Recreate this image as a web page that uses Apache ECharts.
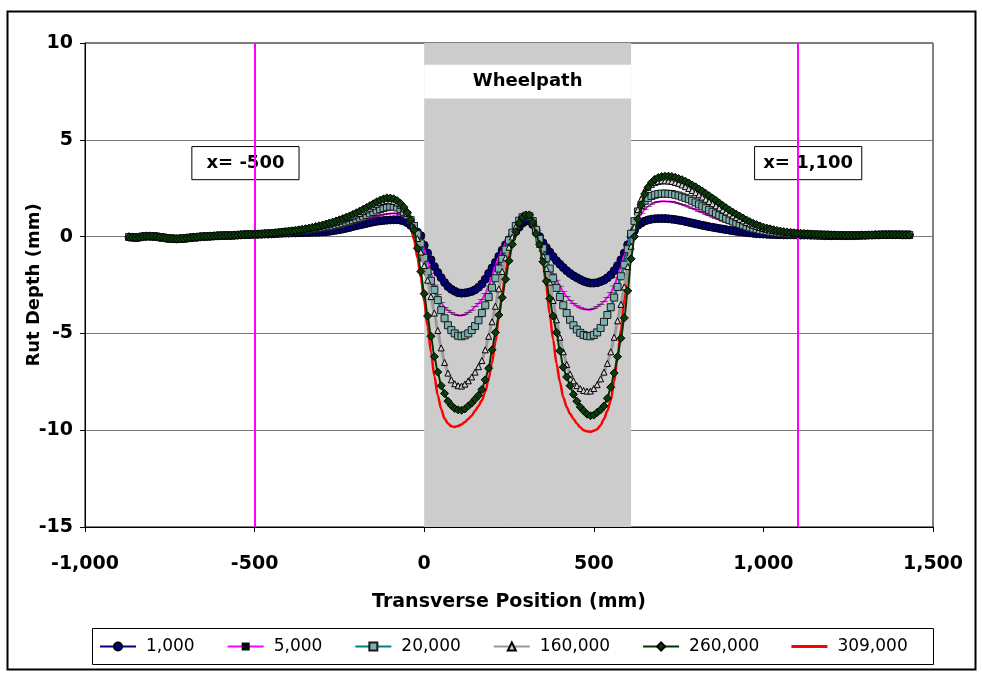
<!DOCTYPE html>
<html>
<head>
<meta charset="utf-8">
<script src="https://cdn.jsdelivr.net/npm/echarts@6/dist/echarts.min.js"></script>
<style>
html,body{margin:0;padding:0;background:#fff;}
#c{width:982px;height:677px;}
</style>
</head>
<body>
<div id="c"></div>
<script>
// ---------------- DATA ----------------
const seriesNames = ['1,000','5,000','20,000','160,000','260,000','309,000'];
const xTicks = [-1000,-500,0,500,1000,1500];
const yTicks = [-15,-10,-5,0,5,10];
const wheelpathStart = 0, wheelpathEnd = 610;
const markerLinesX = [-500, 1100];

// transverse positions (mm)
const xPos = [
 -870,-860,-850,-840,-830,-820,-810,-800,-790,-780,-770,-760,-750,-740,-730,-720,-710,-700,-690,-680,
 -670,-660,-650,-640,-630,-620,-610,-600,-590,-580,-570,-560,-550,-540,-530,-520,-510,-500,-490,-480,
 -470,-460,-450,-440,-430,-420,-410,
 -400,-390,-380,-370,-360,-350,-340,-330,-320,-310,-300,-290,-280,-270,-260,-250,-240,-230,-220,-210,
 -200,-190,-180,-170,-160,-150,-140,-130,-120,-110,-100,-90,-80,-70,-60,-50,-40,-30,-20,-10,
 0,10,20,30,40,50,60,70,80,90,100,110,120,130,140,150,160,170,180,190,
 200,210,220,230,240,250,260,270,280,290,300,310,320,330,340,350,360,370,380,390,
 400,410,420,430,440,450,460,470,480,490,500,510,520,530,540,550,560,570,580,590,
 600,610,620,630,640,650,660,670,680,690,700,710,720,730,740,750,760,770,780,790,
 800,810,820,830,840,850,860,870,880,890,900,910,920,930,940,950,960,970,980,990,
 1000,1010,1020,1030,1040,1050,1060,1070,1080,1090,1100,1110,1120,1130,1140,1150,1160,1170,1180,1190,
 1200,1210,1220,1230,1240,1250,1260,1270,1280,1290,1300,1310,1320,1330,1340,1350,1360,1370,1380,1390,
 1400,1410,1420,1430];

// far-left tail (-870 .. -520), where all six curves lie on top of each other
const leftTailShared = [-0.02,-0.04,-0.05,-0.03,0.0,0.02,0.02,0.01,0.0,-0.03,
 -0.05,-0.08,-0.1,-0.11,-0.12,-0.11,-0.1,-0.08,-0.06,-0.04,
 -0.03,-0.01,0.0,0.01,0.02,0.03,0.04,0.05,0.05,0.06,
 0.06,0.07,0.08,0.09,0.1,0.11];

// -510 .. 1430 for each load repetition count
const rut1000 = [0.11,0.11,0.12,0.12,0.13,0.13,0.14,0.15,0.16,0.17,0.18,
 0.18,0.19,0.19,0.2,0.2,0.21,0.21,0.22,0.22,0.23,
 0.24,0.25,0.27,0.3,0.33,0.36,0.39,0.43,0.47,0.52,
 0.56,0.6,0.64,0.68,0.72,0.76,0.79,0.81,0.83,0.85,
 0.86,0.87,0.87,0.85,0.8,0.72,0.58,0.4,0.23,0.05,
 -0.45,-0.85,-1.2,-1.55,-1.85,-2.12,-2.37,-2.58,-2.72,-2.82,
 -2.9,-2.92,-2.91,-2.88,-2.83,-2.75,-2.62,-2.45,-2.2,-1.9,
 -1.62,-1.33,-1.02,-0.7,-0.42,-0.17,0.05,0.26,0.5,0.7,
 0.8,0.8,0.62,0.32,0.0,-0.32,-0.57,-0.8,-1.03,-1.25,
 -1.43,-1.6,-1.76,-1.9,-2.02,-2.12,-2.22,-2.3,-2.36,-2.4,
 -2.4,-2.38,-2.32,-2.25,-2.13,-1.98,-1.76,-1.5,-1.2,-0.85,
 -0.42,0.0,0.32,0.58,0.7,0.8,0.86,0.9,0.92,0.93,
 0.93,0.93,0.92,0.9,0.88,0.85,0.82,0.78,0.74,0.7,
 0.66,0.62,0.58,0.55,0.51,0.48,0.45,0.42,0.39,0.36,
 0.33,0.3,0.27,0.25,0.23,0.21,0.19,0.17,0.15,0.14,
 0.13,0.12,0.11,0.11,0.1,0.1,0.09,0.09,0.09,0.09,
 0.08,0.08,0.08,0.08,0.07,0.07,0.06,0.06,0.05,0.05,
 0.05,0.05,0.05,0.05,0.05,0.05,0.05,0.06,0.06,0.07,
 0.07,0.08,0.08,0.09,0.09,0.1,0.1,0.1,0.1,0.1,
 0.1,0.1,0.1,0.1];

const rut5000 = [0.12,0.12,0.13,0.14,0.15,0.15,0.16,0.17,0.19,0.2,0.22,
 0.23,0.24,0.25,0.27,0.28,0.3,0.31,0.33,0.35,0.37,
 0.39,0.41,0.43,0.46,0.49,0.52,0.56,0.6,0.64,0.69,
 0.74,0.79,0.84,0.9,0.95,1.0,1.05,1.1,1.14,1.17,
 1.19,1.2,1.18,1.12,1.02,0.88,0.68,0.45,0.18,-0.1,
 -0.65,-1.25,-1.9,-2.5,-3.0,-3.4,-3.65,-3.8,-3.93,-4.02,
 -4.07,-4.07,-4.02,-3.92,-3.8,-3.62,-3.45,-3.25,-2.95,-2.55,
 -2.05,-1.5,-1.05,-0.7,-0.33,0.0,0.3,0.55,0.75,0.9,
 0.97,0.95,0.78,0.45,0.0,-0.5,-1.05,-1.55,-1.92,-2.25,
 -2.56,-2.85,-3.1,-3.3,-3.46,-3.58,-3.68,-3.74,-3.77,-3.78,
 -3.72,-3.62,-3.5,-3.35,-3.15,-2.9,-2.55,-2.1,-1.55,-0.95,
 -0.4,0.1,0.52,0.9,1.18,1.4,1.56,1.68,1.76,1.8,
 1.82,1.82,1.81,1.8,1.77,1.72,1.66,1.6,1.53,1.46,
 1.39,1.31,1.24,1.16,1.09,1.01,0.94,0.87,0.8,0.74,
 0.68,0.62,0.56,0.51,0.46,0.42,0.38,0.34,0.31,0.28,
 0.25,0.23,0.21,0.19,0.17,0.16,0.15,0.14,0.13,0.13,
 0.12,0.12,0.11,0.11,0.1,0.1,0.09,0.09,0.08,0.08,
 0.07,0.07,0.06,0.06,0.06,0.06,0.06,0.06,0.06,0.07,
 0.07,0.08,0.08,0.08,0.08,0.08,0.08,0.08,0.08,0.08,
 0.08,0.08,0.08,0.08];

const rut20000 = [0.12,0.12,0.13,0.14,0.15,0.16,0.17,0.18,0.2,0.22,0.24,
 0.25,0.27,0.29,0.31,0.33,0.35,0.37,0.4,0.42,0.45,
 0.47,0.5,0.53,0.56,0.6,0.64,0.69,0.74,0.79,0.85,
 0.91,0.97,1.04,1.12,1.2,1.27,1.35,1.42,1.48,1.52,
 1.55,1.55,1.5,1.42,1.28,1.1,0.85,0.55,0.12,-0.35,
 -1.1,-1.8,-2.28,-2.75,-3.28,-3.8,-4.22,-4.58,-4.83,-5.0,
 -5.12,-5.15,-5.1,-5.0,-4.83,-4.62,-4.32,-3.95,-3.55,-3.12,
 -2.64,-2.15,-1.65,-1.15,-0.67,-0.2,0.2,0.55,0.82,1.0,
 1.08,1.05,0.8,0.35,-0.12,-0.6,-1.12,-1.65,-2.15,-2.65,
 -3.12,-3.55,-3.95,-4.3,-4.58,-4.8,-4.97,-5.08,-5.13,-5.15,
 -5.08,-4.95,-4.72,-4.4,-4.05,-3.65,-3.15,-2.6,-2.05,-1.45,
 -0.65,0.15,0.8,1.3,1.63,1.85,2.0,2.1,2.16,2.2,
 2.22,2.22,2.21,2.2,2.16,2.12,2.06,2.0,1.93,1.85,
 1.76,1.66,1.56,1.47,1.37,1.28,1.19,1.1,1.01,0.93,
 0.85,0.78,0.71,0.64,0.58,0.52,0.47,0.42,0.38,0.34,
 0.31,0.28,0.25,0.23,0.21,0.2,0.18,0.17,0.16,0.15,
 0.14,0.14,0.13,0.12,0.11,0.11,0.1,0.1,0.09,0.09,
 0.08,0.08,0.07,0.07,0.06,0.06,0.06,0.06,0.06,0.07,
 0.07,0.08,0.08,0.08,0.08,0.09,0.09,0.09,0.09,0.09,
 0.09,0.08,0.08,0.08];

const rut160000 = [0.12,0.12,0.13,0.14,0.15,0.16,0.18,0.19,0.21,0.23,0.25,
 0.27,0.29,0.31,0.34,0.36,0.39,0.42,0.45,0.48,0.52,
 0.56,0.6,0.64,0.69,0.74,0.8,0.86,0.92,0.98,1.05,
 1.12,1.2,1.29,1.38,1.47,1.57,1.67,1.75,1.81,1.85,
 1.85,1.82,1.74,1.62,1.44,1.2,0.9,0.5,-0.1,-0.8,
 -1.5,-2.25,-3.1,-3.95,-4.85,-5.75,-6.5,-7.05,-7.4,-7.6,
 -7.7,-7.72,-7.62,-7.45,-7.25,-7.0,-6.72,-6.4,-5.85,-5.15,
 -4.4,-3.6,-2.7,-1.8,-1.1,-0.55,-0.02,0.5,0.82,1.05,
 1.12,1.1,0.7,0.2,-0.4,-1.0,-1.65,-2.35,-3.3,-4.3,
 -5.2,-5.95,-6.6,-7.1,-7.45,-7.7,-7.85,-7.95,-7.98,-7.98,
 -7.85,-7.65,-7.35,-7.0,-6.55,-5.95,-5.2,-4.35,-3.5,-2.6,
 -1.55,-0.5,0.5,1.4,1.95,2.35,2.55,2.7,2.8,2.85,
 2.88,2.88,2.87,2.85,2.8,2.75,2.67,2.58,2.48,2.38,
 2.27,2.16,2.04,1.93,1.81,1.7,1.59,1.48,1.37,1.27,
 1.17,1.07,0.98,0.89,0.81,0.73,0.66,0.59,0.53,0.47,
 0.42,0.38,0.34,0.31,0.28,0.25,0.23,0.21,0.19,0.18,
 0.17,0.16,0.15,0.14,0.13,0.12,0.11,0.1,0.1,0.09,
 0.08,0.08,0.07,0.07,0.06,0.06,0.06,0.06,0.06,0.07,
 0.07,0.08,0.08,0.08,0.08,0.09,0.09,0.09,0.09,0.09,
 0.09,0.08,0.08,0.08];

const rut260000 = [0.12,0.12,0.13,0.14,0.16,0.17,0.18,0.2,0.22,0.24,0.26,
 0.28,0.3,0.32,0.35,0.38,0.41,0.44,0.48,0.52,0.56,
 0.6,0.65,0.7,0.75,0.81,0.87,0.93,1.0,1.07,1.15,
 1.23,1.32,1.41,1.5,1.6,1.7,1.8,1.88,1.95,2.0,
 1.99,1.95,1.86,1.72,1.52,1.25,0.85,0.35,-0.6,-1.8,
 -2.95,-4.1,-5.15,-6.2,-7.0,-7.7,-8.1,-8.5,-8.72,-8.88,
 -8.95,-8.97,-8.9,-8.75,-8.6,-8.4,-8.2,-7.9,-7.4,-6.8,
 -5.85,-4.95,-4.05,-3.15,-2.2,-1.25,-0.4,0.25,0.7,1.0,
 1.12,1.12,0.75,0.15,-0.4,-1.3,-2.3,-3.2,-4.1,-4.95,
 -5.9,-6.75,-7.25,-7.7,-8.15,-8.5,-8.8,-9.0,-9.17,-9.25,
 -9.22,-9.08,-8.95,-8.75,-8.35,-7.78,-7.05,-6.2,-5.25,-4.2,
 -2.8,-1.15,0.0,0.9,1.65,2.2,2.55,2.8,2.96,3.05,
 3.1,3.12,3.12,3.1,3.06,3.0,2.94,2.86,2.77,2.67,
 2.57,2.46,2.35,2.23,2.11,1.99,1.87,1.74,1.61,1.49,
 1.37,1.26,1.16,1.06,0.96,0.86,0.77,0.69,0.62,0.55,
 0.49,0.44,0.4,0.36,0.32,0.29,0.26,0.24,0.22,0.2,
 0.18,0.17,0.16,0.15,0.14,0.13,0.12,0.11,0.1,0.1,
 0.09,0.09,0.08,0.08,0.07,0.07,0.07,0.07,0.07,0.08,
 0.08,0.08,0.08,0.09,0.09,0.09,0.09,0.09,0.09,0.09,
 0.09,0.08,0.08,0.08];

const rut309000 = [0.12,0.13,0.14,0.15,0.17,0.18,0.2,0.22,0.24,0.26,0.28,
 0.3,0.33,0.36,0.39,0.42,0.46,0.5,0.54,0.58,0.63,
 0.68,0.73,0.78,0.84,0.9,0.96,1.02,1.08,1.14,1.2,
 1.27,1.34,1.42,1.5,1.59,1.68,1.76,1.84,1.89,1.92,
 1.9,1.85,1.75,1.6,1.37,1.05,0.5,-0.15,-1.1,-2.1,
 -3.35,-4.63,-5.95,-7.2,-8.2,-8.9,-9.4,-9.65,-9.8,-9.83,
 -9.78,-9.7,-9.58,-9.42,-9.25,-9.0,-8.75,-8.45,-8.0,-7.35,
 -6.5,-5.45,-4.15,-2.95,-1.8,-0.9,-0.25,0.2,0.5,0.7,
 0.8,0.78,0.55,0.19,-0.4,-1.3,-2.6,-4.0,-5.3,-6.55,
 -7.5,-8.3,-8.8,-9.15,-9.42,-9.65,-9.85,-10.0,-10.06,-10.08,
 -10.03,-9.95,-9.74,-9.42,-9.0,-8.45,-7.5,-6.2,-4.8,-3.25,
 -1.55,-0.15,0.75,1.5,2.05,2.45,2.7,2.88,2.97,3.03,
 3.06,3.07,3.06,3.04,3.0,2.96,2.9,2.83,2.74,2.65,
 2.55,2.45,2.34,2.23,2.11,1.99,1.87,1.75,1.63,1.51,
 1.39,1.28,1.18,1.08,0.98,0.88,0.79,0.71,0.64,0.57,
 0.51,0.46,0.41,0.37,0.33,0.3,0.27,0.25,0.23,0.21,
 0.19,0.18,0.17,0.15,0.14,0.13,0.12,0.11,0.1,0.1,
 0.09,0.09,0.08,0.08,0.07,0.07,0.07,0.07,0.07,0.08,
 0.08,0.08,0.08,0.09,0.09,0.09,0.09,0.09,0.09,0.09,
 0.09,0.08,0.08,0.08];

// annotation boxes (data coordinates)
const wheelpathLabel = 'Wheelpath';
const wheelpathBoxY = [7.13, 8.88];
const annotations = [
  {text: 'x= -500', x: [-685, -369], y: [2.94, 4.65]},
  {text: 'x= 1,100', x: [974, 1290], y: [2.94, 4.65]}
];

// ---------------- CHART ----------------
const FONT = 'DejaVu Sans';
const fmt = v => String(v).replace(/\B(?=(\d{3})+(?!\d))/g, ',');
const pairs = arr => {
  const full = leftTailShared.concat(arr);
  return xPos.map((x, i) => [x, full[i]]);
};
const DASH = 'path://M0,0 L8,0 L8,2 L0,2 Z';
const LINE_ICON = 'path://M0,3.5 L36,3.5 L36,6.5 L0,6.5 Z M0,0 L0.01,0 L0,0.01 Z M0,10 L0.01,10 L0,9.99 Z';

const styles = [
  {data: rut1000, line: '#000080', w: 2, symbol: 'circle', size: 8, fill: '#000080', border: '#000000', bw: 1, z: 4},
  {data: rut5000, line: '#FF00FF', w: 2, symbol: DASH, size: [8, 2], fill: '#000000', border: '#000000', bw: 0, z: 5},
  {data: rut20000, line: '#008080', w: 2.5, symbol: 'rect', size: 7, fill: '#7fb0b0', border: '#1a1a1a', bw: 1, z: 6},
  {data: rut160000, line: '#9a9a9a', w: 3, symbol: 'triangle', size: 6, fill: '#d0d0d0', border: '#000000', bw: 1, z: 7},
  {data: rut260000, line: '#003300', w: 2, symbol: 'diamond', size: 8, fill: '#0b3d0b', border: '#000000', bw: 1, z: 8},
  {data: rut309000, line: '#FF0000', w: 2.5, symbol: 'none', size: 0, fill: '#FF0000', border: '#FF0000', bw: 0, z: 3}
];

const dataSeries = styles.map((s, i) => ({
  name: seriesNames[i],
  type: 'line',
  data: pairs(s.data),
  smooth: 0.3,
  smoothMonotone: 'x',
  showSymbol: s.symbol !== 'none',
  showAllSymbol: true,
  symbol: s.symbol,
  symbolSize: s.size,
  symbolKeepAspect: true,
  lineStyle: {color: s.line, width: s.w},
  itemStyle: {color: s.fill, borderColor: s.border, borderWidth: s.bw},
  z: s.z,
  silent: true
}));

const boxLabel = {show: true, position: 'inside', color: '#000', fontFamily: FONT, fontWeight: 'bold', fontSize: 18};
const helperSeries = [
  {
    type: 'line', data: [], z: -1, silent: true,
    markArea: {silent: true, itemStyle: {color: '#cccccc'}, label: {show: false},
      data: [[{xAxis: wheelpathStart}, {xAxis: wheelpathEnd}]]}
  },
  {
    type: 'line', data: [], z: 1, silent: true,
    markLine: {silent: true, symbol: 'none', label: {show: false},
      lineStyle: {color: '#FF00FF', width: 2, type: 'solid'},
      data: markerLinesX.map(x => ({xAxis: x}))}
  },
  {
    type: 'line', data: [], z: 2, silent: true,
    markArea: {silent: true,
      data: [
        [{xAxis: wheelpathStart, yAxis: wheelpathBoxY[0],
          itemStyle: {color: '#ffffff', borderWidth: 0},
          label: Object.assign({formatter: wheelpathLabel}, boxLabel)},
         {xAxis: wheelpathEnd, yAxis: wheelpathBoxY[1]}]
      ].concat(annotations.map(a => [
        {xAxis: a.x[0], yAxis: a.y[0],
         itemStyle: {color: '#ffffff', borderColor: '#000000', borderWidth: 1},
         label: Object.assign({formatter: a.text}, boxLabel)},
        {xAxis: a.x[1], yAxis: a.y[1]}
      ]))
    }
  }
];

const legendData = seriesNames.map((n, i) => i === 5 ? {name: n, icon: LINE_ICON} : {name: n});

const chart = echarts.init(document.getElementById('c'), null, {renderer: 'canvas'});
chart.setOption({
  animation: false,
  backgroundColor: '#ffffff',
  graphic: [
    {type: 'rect', shape: {x: 7.5, y: 11.5, width: 968, height: 658}, style: {fill: 'none', stroke: '#000', lineWidth: 2}, z: 100, silent: true},
    {type: 'rect', shape: {x: 92.5, y: 628.5, width: 841, height: 36}, style: {fill: '#fff', stroke: '#000', lineWidth: 1}, z: -10, silent: true}
  ],
  grid: {left: 85, right: 49, top: 43, bottom: 150, show: true, borderColor: '#000', borderWidth: 1, backgroundColor: 'transparent'},
  xAxis: {
    type: 'value', min: xTicks[0], max: xTicks[xTicks.length - 1], interval: 500,
    axisLine: {onZero: false, lineStyle: {color: '#000', width: 1}},
    axisTick: {show: true, length: 5, lineStyle: {color: '#000'}},
    axisLabel: {formatter: fmt, margin: 28, fontFamily: FONT, fontWeight: 'bold', fontSize: 19, color: '#000'},
    splitLine: {show: false},
    name: 'Transverse Position (mm)', nameLocation: 'middle', nameGap: 66,
    nameTextStyle: {fontFamily: FONT, fontWeight: 'bold', fontSize: 19, color: '#000'}
  },
  yAxis: {
    type: 'value', min: yTicks[0], max: yTicks[yTicks.length - 1], interval: 5,
    axisLine: {show: true, onZero: false, lineStyle: {color: '#000', width: 1}},
    axisTick: {show: true, length: 5, lineStyle: {color: '#000'}},
    axisLabel: {formatter: fmt, margin: 12, fontFamily: FONT, fontWeight: 'bold', fontSize: 19, color: '#000'},
    splitLine: {show: true, lineStyle: {color: '#7a7a7a', width: 1}},
    name: 'Rut Depth (mm)', nameLocation: 'middle', nameGap: 42, nameRotate: 90, nameMoveOverlap: false,
    nameTextStyle: {fontFamily: FONT, fontWeight: 'bold', fontSize: 18, color: '#000'}
  },
  legend: {
    data: legendData, left: 94, top: 633, itemWidth: 36, itemHeight: 10, itemGap: 32,
    textStyle: {fontFamily: FONT, fontSize: 17, color: '#000', padding: [0, 0, 0, 5]},
    selectedMode: false
  },
  series: helperSeries.concat(dataSeries)
});
</script>
</body>
</html>
